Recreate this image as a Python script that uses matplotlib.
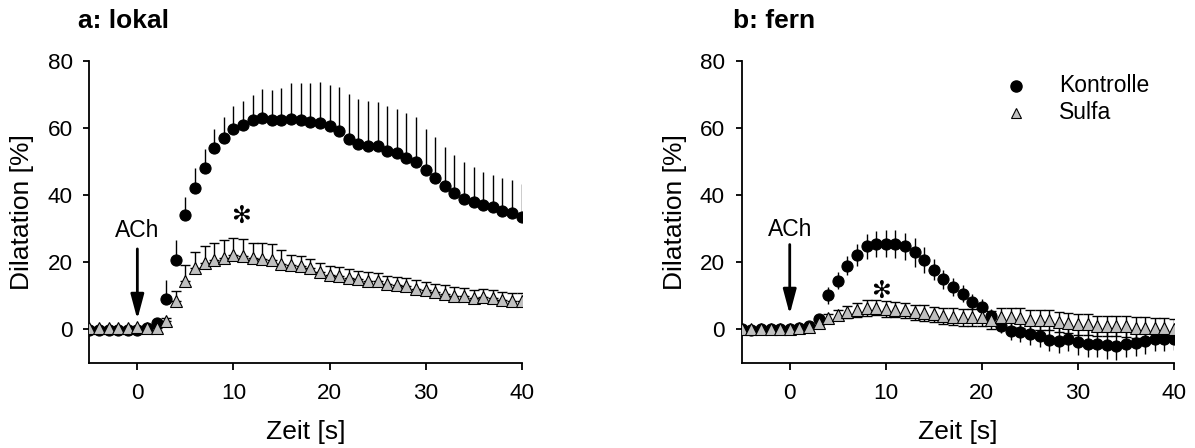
import numpy as np
import matplotlib
matplotlib.use("Agg")
import matplotlib.pyplot as plt

plt.rcParams['font.family'] = ['Liberation Sans', 'DejaVu Sans']

# ---------------- data ----------------
time_s = list(range(-5, 41))

# panel a: lokal
kontrolle_a = [-0.2, -0.2, -0.1, -0.2, -0.2, -0.2, 0.5, 1.8, 9.2, 20.6,
               34.0, 42.1, 48.0, 54.1, 57.1, 59.6, 60.8, 62.3, 63.1, 62.5,
               62.5, 62.8, 62.4, 61.9, 61.6, 60.5, 59.0, 56.7, 55.2, 54.7,
               54.7, 53.3, 52.7, 51.1, 50.0, 47.4, 45.1, 42.6, 40.6, 39.0,
               37.9, 37.0, 36.4, 35.3, 34.6, 33.4]
kontrolle_a_err = [0.2, 0.2, 0.2, 0.2, 0.2, 0.2, 0.5, 1.0, 5.6, 6.1,
                   5.4, 5.9, 5.7, 5.7, 6.3, 6.9, 7.4, 7.6, 8.6, 8.9,
                   9.5, 10.5, 10.9, 11.5, 12.1, 12.4, 13.2, 13.5, 13.5, 13.5,
                   13.2, 13.3, 12.9, 13.3, 13.2, 12.3, 12.2, 11.7, 11.4, 11.0,
                   10.5, 9.8, 9.7, 9.8, 10.0, 10.0]
sulfa_a = [0.3, 0.3, 0.3, 0.3, 0.3, 0.8, 0.4, 0.5, 2.5, 8.4,
           14.5, 18.3, 19.8, 20.6, 21.3, 22.1, 21.8, 21.3, 21.1, 20.8,
           19.6, 19.3, 19.0, 18.3, 17.0, 16.2, 16.0, 15.3, 14.9, 14.3,
           14.3, 13.4, 13.1, 12.9, 12.1, 11.7, 11.1, 10.7, 10.1, 9.9,
           9.4, 9.7, 9.4, 8.9, 8.4, 8.4]
sulfa_a_err = [0.3, 0.3, 0.3, 0.3, 0.3, 0.3, 0.3, 0.3, 0.8, 3.0,
               4.6, 4.9, 5.2, 5.3, 5.4, 5.1, 5.2, 4.6, 4.8, 4.7,
               4.1, 3.0, 2.8, 2.8, 2.8, 2.7, 2.7, 2.7, 2.6, 2.7,
               2.6, 2.6, 2.5, 2.5, 2.6, 2.5, 2.5, 2.4, 2.5, 2.4,
               2.5, 2.4, 2.4, 2.4, 2.4, 2.5]

# panel b: fern
kontrolle_b = [0.2, -0.3, 0.0, 0.1, 0.0, 0.1, 0.4, 1.1, 3.0, 10.2,
               14.5, 19.0, 22.3, 24.8, 25.5, 25.6, 25.5, 24.8, 23.0, 20.7,
               17.8, 14.9, 12.7, 10.7, 8.3, 6.8, 4.1, 0.9, -0.5, -0.8,
               -1.5, -2.0, -3.0, -3.5, -2.9, -3.8, -4.2, -4.3, -4.7, -4.9,
               -4.2, -4.0, -3.5, -2.8, -2.8, -2.8]
kontrolle_b_err = [0.3, 0.3, 0.3, 0.3, 0.3, 0.3, 0.3, 0.3, 1.0, 2.5,
                   2.5, 2.8, 3.3, 3.7, 3.8, 4.0, 4.2, 4.0, 4.3, 3.8,
                   3.2, 2.8, 2.6, 2.5, 2.4, 2.2, 2.0, 2.0, 2.6, 2.8,
                   3.0, 3.2, 3.4, 3.5, 3.6, 3.8, 4.0, 4.0, 4.0, 4.1,
                   4.0, 3.8, 3.8, 3.6, 3.5, 3.4]
sulfa_b = [0.1, 0.1, 0.1, 0.1, 0.1, 0.1, 0.3, 0.6, 2.0, 3.3,
           4.2, 5.1, 5.9, 6.4, 6.5, 6.1, 5.9, 5.7, 5.1, 4.9,
           4.5, 4.0, 3.8, 3.6, 3.6, 3.6, 2.8, 3.6, 3.6, 3.4,
           2.8, 2.8, 2.8, 2.2, 2.0, 1.5, 1.5, 1.0, 1.0, 1.0,
           0.9, 0.5, 0.5, 0.3, 0.3, 0.0]
sulfa_b_err = [0.3, 0.3, 0.3, 0.3, 0.3, 0.3, 0.3, 0.3, 0.8, 1.2,
               1.5, 1.8, 2.1, 2.3, 2.3, 2.3, 2.3, 2.3, 2.3, 2.3,
               2.3, 2.3, 2.5, 2.6, 2.6, 2.7, 2.8, 2.8, 2.9, 2.9,
               3.0, 3.0, 3.0, 3.0, 3.0, 3.1, 3.1, 3.1, 3.1, 3.1,
               3.1, 3.1, 3.1, 3.1, 3.1, 3.1]

panel_titles = ["a: lokal", "b: fern"]
series_labels = ["Kontrolle", "Sulfa"]
x_ticks = [0, 10, 20, 30, 40]
y_ticks = [0, 20, 40, 60, 80]
x_label = "Zeit [s]"
y_label = "Dilatation [%]"
stim_label = "ACh"

# ---------------- figure ----------------
W, H = 1195, 448
fig = plt.figure(figsize=(W / 100, H / 100), dpi=100)

def frac(left, top, right, bottom):
    return [left / W, 1 - bottom / H, (right - left) / W, (bottom - top) / H]

ax_a = fig.add_axes(frac(89.3, 61, 521.7, 363))
ax_b = fig.add_axes(frac(741.7, 61, 1174, 363))

FS_TICK = 16.2
FS_TEXT = 16.5
FS_LABEL = 19
GRAY = '#c0c0c0'
t = np.array(time_s)

def style(ax):
    ax.set_xlim(-5, 40)
    ax.set_ylim(-10, 80)
    ax.set_xticks(x_ticks)
    ax.set_yticks(y_ticks)
    for s in ['top', 'right']:
        ax.spines[s].set_visible(False)
    for s in ['left', 'bottom']:
        ax.spines[s].set_linewidth(1.3)
    ax.tick_params(axis='x', direction='out', length=5, width=1.3, pad=9.5, labelsize=FS_TICK)
    ax.tick_params(axis='y', direction='out', length=4, width=1.3, pad=8, labelsize=FS_TICK)

def draw(ax, mean, err, symmetric, caps, marker, face, ms, z):
    mean = np.array(mean)
    err = np.array(err)
    if symmetric:
        yerr = [err, err]
    else:
        yerr = [np.zeros_like(err), err]
    ax.errorbar(t, mean, yerr=yerr, fmt='none', ecolor='black', elinewidth=1.0,
                capsize=(3.5 if caps else 0), capthick=1.0, zorder=z)
    ax.plot(t, mean, linestyle='none', marker=marker, ms=ms, mfc=face,
            mec='black', mew=0.8, zorder=z + 1)

# panel a
draw(ax_a, kontrolle_a, kontrolle_a_err, False, False, 'o', 'black', 8, 2)
draw(ax_a, sulfa_a, sulfa_a_err, False, True, '^', GRAY, 8.5, 4)
# panel b
draw(ax_b, kontrolle_b, kontrolle_b_err, True, False, 'o', 'black', 8, 2)
draw(ax_b, sulfa_b, sulfa_b_err, True, True, '^', GRAY, 8.5, 4)

for ax in (ax_a, ax_b):
    style(ax)

# ACh arrows
ax_a.annotate("", xy=(0, 3.0), xytext=(0, 24.0),
              arrowprops=dict(arrowstyle='-|>,head_length=0.75,head_width=0.2',
                              lw=2.0, color='black', mutation_scale=20,
                              shrinkA=0, shrinkB=0), zorder=10)
ax_a.text(0, 29.5, stim_label, ha='center', va='center', fontsize=FS_TEXT)
ax_b.annotate("", xy=(0, 4.5), xytext=(0, 25.3),
              arrowprops=dict(arrowstyle='-|>,head_length=0.75,head_width=0.2',
                              lw=2.0, color='black', mutation_scale=20,
                              shrinkA=0, shrinkB=0), zorder=10)
ax_b.text(0, 29.8, stim_label, ha='center', va='center', fontsize=FS_TEXT)

# significance asterisks
ax_a.text(10.8, 33.8, "\u273B", ha='center', va='center', fontsize=17,
          family=['DejaVu Sans'], fontweight='bold')
ax_b.text(9.5, 11.6, "\u273B", ha='center', va='center', fontsize=17,
          family=['DejaVu Sans'], fontweight='bold')

# legend (panel b)
ax_b.plot([23.6], [72.6], 'o', ms=8, mfc='black', mec='black', zorder=5)
ax_b.plot([23.6], [64.6], '^', ms=6.5, mfc=GRAY, mec='black', mew=0.8, zorder=5)
ax_b.text(28.0, 72.6, series_labels[0], ha='left', va='center', fontsize=FS_TEXT)
ax_b.text(28.0, 64.6, series_labels[1], ha='left', va='center', fontsize=FS_TEXT)

# titles and axis labels
fig.text(78 / W, 1 - 21 / H, panel_titles[0], ha='left', va='center',
         fontsize=FS_LABEL, fontweight='bold')
fig.text(733 / W, 1 - 21 / H, panel_titles[1], ha='left', va='center',
         fontsize=FS_LABEL, fontweight='bold')
fig.text(305.5 / W, 1 - 432 / H, x_label, ha='center', va='center', fontsize=FS_LABEL)
fig.text(958 / W, 1 - 432 / H, x_label, ha='center', va='center', fontsize=FS_LABEL)
fig.text(22 / W, 1 - 212 / H, y_label, ha='center', va='center', fontsize=FS_LABEL, rotation=90)
fig.text(675 / W, 1 - 212 / H, y_label, ha='center', va='center', fontsize=FS_LABEL, rotation=90)

fig.savefig("out.png", dpi=100)
